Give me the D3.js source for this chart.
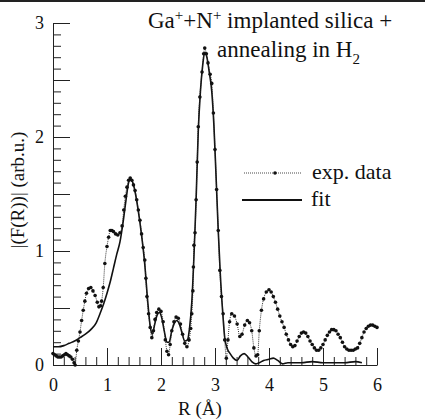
<!DOCTYPE html>
<html>
<head>
<meta charset="utf-8">
<script src="https://cdn.jsdelivr.net/npm/d3@7"></script>
<style>
  body { margin: 0; background: #fff; }
</style>
</head>
<body>
<div id="chart-container"></div>
<script>
// exp. data: R (Å) and |F(R)|
const expR = [0.00,0.03,0.06,0.09,0.12,0.15,0.18,0.21,0.24,0.27,0.30,0.33,0.36,0.39,0.41,0.44,0.47,0.50,0.53,0.56,
  0.59,0.62,0.66,0.70,0.74,0.78,0.82,0.85,0.88,0.90,0.93,0.96,1.00,1.03,1.06,1.09,1.12,1.16,1.20,1.24,
  1.28,1.31,1.34,1.37,1.40,1.43,1.46,1.49,1.52,1.55,1.58,1.61,1.64,1.67,1.70,1.72,1.74,1.77,1.80,1.83,
  1.86,1.89,1.92,1.96,2.00,2.04,2.08,2.11,2.14,2.17,2.20,2.24,2.28,2.32,2.36,2.40,2.44,2.48,2.52,2.55,
  2.57,2.59,2.60,2.61,2.63,2.65,2.67,2.69,2.72,2.76,2.79,2.81,2.84,2.87,2.91,2.94,2.97,3.00,3.03,3.06,
  3.09,3.12,3.15,3.18,3.21,3.24,3.27,3.31,3.36,3.41,3.46,3.50,3.55,3.60,3.64,3.68,3.72,3.76,3.79,3.82,
  3.86,3.90,3.95,4.00,4.04,4.08,4.12,4.16,4.20,4.24,4.28,4.32,4.36,4.40,4.44,4.48,4.52,4.56,4.60,4.64,
  4.68,4.72,4.76,4.80,4.84,4.88,4.92,4.96,5.00,5.04,5.08,5.12,5.16,5.20,5.24,5.28,5.32,5.36,5.40,5.44,
  5.48,5.52,5.56,5.60,5.64,5.68,5.72,5.76,5.80,5.84,5.88,5.92,5.96,6.00];
const expVal = [0.10,0.09,0.08,0.07,0.07,0.07,0.08,0.09,0.10,0.09,0.08,0.07,0.05,0.02,0.00,0.13,0.21,0.29,0.39,0.48,
  0.56,0.63,0.67,0.68,0.65,0.61,0.55,0.51,0.52,0.56,0.68,0.89,1.04,1.12,1.18,1.18,1.17,1.15,1.14,1.16,
  1.22,1.36,1.48,1.56,1.62,1.64,1.62,1.58,1.53,1.45,1.36,1.27,1.15,1.03,0.92,0.76,0.60,0.45,0.33,0.24,
  0.30,0.40,0.46,0.49,0.47,0.38,0.22,0.12,0.09,0.18,0.30,0.38,0.42,0.41,0.36,0.27,0.19,0.16,0.22,0.32,
  0.45,0.65,0.86,1.05,1.16,1.45,1.78,2.09,2.35,2.57,2.73,2.78,2.73,2.65,2.55,2.47,2.21,1.89,1.54,1.18,
  0.83,0.60,0.45,0.22,0.06,0.22,0.38,0.45,0.43,0.36,0.25,0.27,0.35,0.39,0.37,0.30,0.15,0.08,0.09,0.30,
  0.48,0.58,0.64,0.66,0.64,0.60,0.55,0.49,0.43,0.38,0.33,0.27,0.22,0.18,0.16,0.17,0.21,0.25,0.28,0.29,
  0.28,0.25,0.21,0.18,0.15,0.13,0.13,0.15,0.18,0.22,0.26,0.29,0.31,0.31,0.30,0.27,0.24,0.20,0.16,0.14,
  0.13,0.13,0.13,0.14,0.15,0.19,0.24,0.29,0.32,0.34,0.35,0.35,0.34,0.33];

// fit
const fitR = [0.00,0.10,0.20,0.30,0.40,0.50,0.60,0.70,0.80,0.87,0.94,1.00,1.06,1.12,1.18,1.24,1.30,1.35,1.40,1.43,
  1.47,1.52,1.58,1.64,1.70,1.75,1.80,1.84,1.88,1.93,1.97,2.01,2.06,2.11,2.15,2.20,2.25,2.29,2.34,2.39,
  2.44,2.49,2.53,2.57,2.61,2.65,2.69,2.73,2.77,2.81,2.85,2.89,2.94,2.98,3.02,3.06,3.10,3.14,3.18,3.23,
  3.28,3.34,3.41,3.47,3.54,3.61,3.68,3.75,3.82,3.90,4.00,4.08,4.16,4.25,4.35,4.45,4.60,4.80,5.00,5.20,
  5.40,5.60,5.72];
const fitVal = [0.16,0.16,0.17,0.19,0.21,0.24,0.27,0.31,0.37,0.45,0.54,0.63,0.73,0.85,0.97,1.08,1.26,1.44,1.60,1.63,
  1.61,1.52,1.35,1.14,0.88,0.58,0.34,0.27,0.35,0.44,0.46,0.42,0.30,0.20,0.20,0.30,0.37,0.39,0.36,0.28,
  0.21,0.22,0.33,0.55,0.95,1.45,2.05,2.40,2.62,2.74,2.70,2.58,2.40,2.10,1.65,1.18,0.78,0.48,0.24,0.14,
  0.10,0.06,0.04,0.08,0.10,0.07,0.03,0.01,0.02,0.04,0.05,0.06,0.04,0.01,0.02,0.02,0.02,0.03,0.02,0.02,
  0.02,0.03,0.02];

const xTickLabels = [0, 1, 2, 3, 4, 5, 6];
const yTickLabels = [0, 1, 2, 3];

const FONT = "'Liberation Serif', 'Times New Roman', Times, 'DejaVu Serif', serif";
const W = 425, H = 420;
const svg = d3.select("#chart-container").append("svg")
  .attr("width", W).attr("height", H)
  .style("font-family", FONT);

const x = d3.scaleLinear().domain([0, 6]).range([53, 377]);
const y = d3.scaleLinear().domain([0, 3]).range([365, 23]);

// scan border at the top
svg.append("line").attr("x1", 0).attr("x2", W).attr("y1", 1).attr("y2", 1)
  .attr("stroke", "#222").attr("stroke-width", 2);

// y axis: ticks point inward
const yMinor = d3.range(0, 3.001, 0.1).filter(v => Math.abs(v * 2 - Math.round(v * 2)) > 1e-6);
const yMajor = d3.range(0, 3.001, 0.5);
svg.append("g").attr("transform", `translate(${x(0)},0)`)
  .call(d3.axisRight(y).tickValues(yMinor).tickSize(8).tickFormat(""))
  .call(g => g.select(".domain").remove());
svg.append("g").attr("transform", `translate(${x(0)},0)`)
  .call(d3.axisRight(y).tickValues(yMajor).tickSize(17).tickSizeOuter(0).tickFormat(""));
svg.append("g").attr("transform", `translate(${x(0)},0)`)
  .call(d3.axisLeft(y).tickValues(yTickLabels).tickSize(0).tickPadding(9).tickFormat(d3.format("d")))
  .call(g => g.select(".domain").remove());

// x axis
const xMinor = d3.range(0, 6.001, 0.2).filter(v => Math.abs(v - Math.round(v)) > 1e-6);
svg.append("g").attr("transform", `translate(0,${y(0)})`)
  .call(d3.axisTop(x).tickValues(xMinor).tickSize(8).tickFormat(""))
  .call(g => g.select(".domain").remove());
svg.append("g").attr("transform", `translate(0,${y(0)})`)
  .call(d3.axisTop(x).tickValues(xTickLabels).tickSize(17).tickSizeOuter(0).tickFormat(""));
svg.append("g").attr("transform", `translate(0,${y(0)})`)
  .call(d3.axisBottom(x).tickValues(xTickLabels).tickSize(0).tickPadding(13).tickFormat(d3.format("d")))
  .call(g => g.select(".domain").remove());

svg.selectAll("g").attr("font-family", null);
svg.selectAll(".tick text").style("font-family", FONT).style("font-size", "18px").attr("fill", "#111");
svg.selectAll(".tick line, .domain").attr("stroke", "#222");

// curves
const expData = expR.map((r, i) => ({ r, v: expVal[i] }));
const fitData = fitR.map((r, i) => ({ r, v: fitVal[i] }));
const line = d3.line().x(d => x(d.r)).y(d => y(d.v)).curve(d3.curveMonotoneX);

svg.append("path").datum(fitData)
  .attr("fill", "none").attr("stroke", "#111").attr("stroke-width", 1.6)
  .attr("stroke-linejoin", "round").attr("d", line);

svg.append("path").datum(expData)
  .attr("fill", "none").attr("stroke", "#222").attr("stroke-width", 0.9)
  .attr("stroke-dasharray", "1,1").attr("d", line);

svg.append("g").selectAll("circle").data(expData).join("circle")
  .attr("cx", d => x(d.r)).attr("cy", d => y(d.v)).attr("r", 1.8).attr("fill", "#111");

// text helper
const txt = (xx, yy, size) => svg.append("text").attr("x", xx).attr("y", yy)
  .style("font-family", FONT).style("font-size", size + "px").attr("fill", "#111");

// title
const title1 = txt(148, 28, 23);
title1.append("tspan").text("Ga");
title1.append("tspan").attr("dy", -8).style("font-size", "15px").text("+");
title1.append("tspan").attr("dy", 8).text("+N");
title1.append("tspan").attr("dy", -8).style("font-size", "15px").text("+");
title1.append("tspan").attr("dy", 8).text(" implanted silica +");

const title2 = txt(217, 57, 23);
title2.append("tspan").text("annealing in H");
title2.append("tspan").attr("dy", 7).style("font-size", "15px").text("2");

// legend
svg.append("line").attr("x1", 244).attr("x2", 302).attr("y1", 173).attr("y2", 173)
  .attr("stroke", "#333").attr("stroke-width", 0.9).attr("stroke-dasharray", "1,1");
svg.append("circle").attr("cx", 275).attr("cy", 173).attr("r", 1.8).attr("fill", "#111");
txt(312, 179, 22).text("exp. data");
svg.append("line").attr("x1", 242).attr("x2", 302).attr("y1", 200).attr("y2", 200)
  .attr("stroke", "#111").attr("stroke-width", 1.8);
txt(311, 206, 22).text("fit");

// axis titles
txt(0, 0, 19).attr("transform", "translate(24,190) rotate(-90)")
  .attr("text-anchor", "middle").text("|(F(R))| (arb.u.)");
txt(200, 415, 19).attr("text-anchor", "middle").text("R (Å)");
</script>
</body>
</html>
